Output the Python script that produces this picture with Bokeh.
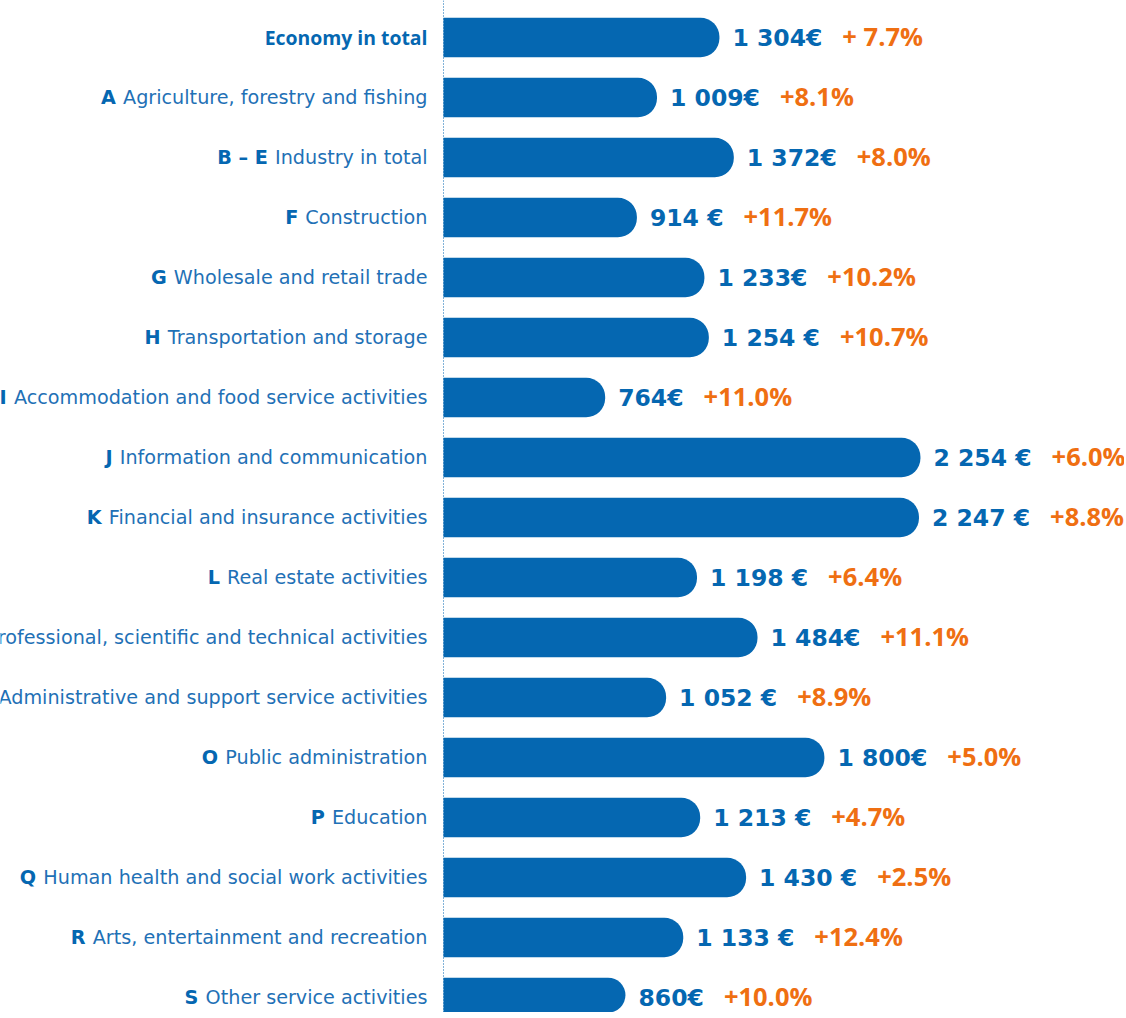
import subprocess
from bokeh.plotting import figure
from bokeh.models import ColumnDataSource, Range1d, Span
from bokeh.core.properties import value
from bokeh.embed import file_html
from bokeh.resources import INLINE

# ---------------- data ----------------
codes = ["", "A", "B \u2013 E", "F", "G", "H", "I", "J", "K", "L", "M", "N", "O", "P", "Q", "R", "S"]
names = ["Economy in total", "Agriculture, forestry and fishing", "Industry in total", "Construction",
         "Wholesale and retail trade", "Transportation and storage",
         "Accommodation and food service activities", "Information and communication",
         "Financial and insurance activities", "Real estate activities",
         "Professional, scientific and technical activities",
         "Administrative and support service activities", "Public administration", "Education",
         "Human health and social work activities", "Arts, entertainment and recreation",
         "Other service activities"]
wages = [1304, 1009, 1372, 914, 1233, 1254, 764, 2254, 2247, 1198, 1484, 1052, 1800, 1213, 1430, 1133, 860]
wage_labels = ["1 304\u20ac", "1 009\u20ac", "1 372\u20ac", "914 \u20ac", "1 233\u20ac", "1 254 \u20ac", "764\u20ac",
               "2 254 \u20ac", "2 247 \u20ac", "1 198 \u20ac", "1 484\u20ac", "1 052 \u20ac", "1 800\u20ac",
               "1 213 \u20ac", "1 430 \u20ac", "1 133 \u20ac", "860\u20ac"]
growth_labels = ["+ 7.7%", "+8.1%", "+8.0%", "+11.7%", "+10.2%", "+10.7%", "+11.0%", "+6.0%", "+8.8%",
                 "+6.4%", "+11.1%", "+8.9%", "+5.0%", "+4.7%", "+2.5%", "+12.4%", "+10.0%"]

# ---------------- styles ----------------
BLUE = "#0567b1"
LABEL_BLUE = "#1f71b6"
ORANGE = "#ef6f12"
LABEL_FONT = "DejaVu Sans"
TOTAL_FONT = "Open Sans"
VALUE_FONT = "DejaVu Sans"
PCT_FONT = "Open Sans"


def font_file(family, bold):
    try:
        pat = f"{family}:bold" if bold else f"{family}:regular"
        out = subprocess.run(["fc-match", "-f", "%{file}", pat],
                             capture_output=True, text=True).stdout.strip()
        if out:
            return out
    except Exception:
        pass
    return None

try:
    from PIL import ImageFont
    _fonts = {}
    def text_w(s, family, bold, size):
        key = (family, bold)
        if key not in _fonts:
            _fonts[key] = ImageFont.truetype(font_file(family, bold), 100)
        return _fonts[key].getlength(s) * size / 100.0
    for f, b in [(LABEL_FONT, False), (LABEL_FONT, True), (TOTAL_FONT, True), (PCT_FONT, True)]:
        text_w("x", f, b, 10)
except Exception:
    def text_w(s, family, bold, size):
        return len(s) * size * (0.66 if bold else 0.58)

# sizes fitted to the reference's text widths
LABEL_SIZE = round(10 * 305 / text_w("Agriculture, forestry and fishing", LABEL_FONT, False, 10), 1)
TOTAL_SIZE = round(10 * 151 / text_w("Economy in total", TOTAL_FONT, True, 10), 1)
VALUE_SIZE = round((10 * 95 / text_w("1 304\u20ac", VALUE_FONT, True, 10)
                    + 10 * 93 / text_w("2 254 \u20ac", VALUE_FONT, True, 10)) / 2, 1)
PCT_SIZE = round(10 * 86 / text_w("+10.7%", PCT_FONT, True, 10), 1)

# ---------------- figure geometry ----------------
W, H = 1124, 1012
px_per_unit = 0.2116      # px per euro
bar_x0_px = 443
row_px = 60
first_row_px = 37
x_start = -bar_x0_px / px_per_unit
x_end = (W - bar_x0_px) / px_per_unit
y_top = -first_row_px / row_px
y_bottom = (H - first_row_px) / row_px

n = len(wages)
ys = list(range(n))

p = figure(width=W, height=H, output_backend="svg", toolbar_location=None,
           x_range=Range1d(x_start, x_end), y_range=Range1d(y_bottom, y_top),
           min_border=0)
p.axis.visible = False
p.grid.visible = False
p.outline_line_color = None
p.background_fill_color = "white"
p.border_fill_color = "white"

src = ColumnDataSource(dict(y=ys, wage=wages, code=codes, name=names,
                            wage_label=wage_labels, growth=growth_labels))

# bars with rounded right end
p.hbar(y="y", left=0, right="wage", height=0.66, source=src, fill_color=BLUE, line_color=None,
       border_radius=(0, 19, 19, 0))

# dotted baseline
p.add_layout(Span(location=0, dimension="height", line_color=BLUE, line_width=1, line_dash="1 2"))

# category labels: regular name, bold code in front
LABEL_GAP = -16
space_w = text_w(" ", LABEL_FONT, False, LABEL_SIZE) * 1.15
reg_idx = [i for i, c in enumerate(codes) if c]
tot_idx = [i for i, c in enumerate(codes) if not c]

reg = ColumnDataSource(dict(
    y=[ys[i] for i in reg_idx],
    name=[names[i] for i in reg_idx],
    code=[codes[i] for i in reg_idx],
    code_off=[LABEL_GAP - text_w(names[i], LABEL_FONT, False, LABEL_SIZE) - space_w for i in reg_idx],
))
tot = ColumnDataSource(dict(y=[ys[i] for i in tot_idx], name=[names[i] for i in tot_idx]))

p.text(x=0, y="y", text="name", source=reg, x_offset=LABEL_GAP, text_align="right",
       text_baseline="middle", text_font=value(LABEL_FONT), text_font_size=f"{LABEL_SIZE}px",
       text_color=LABEL_BLUE)
p.text(x=0, y="y", text="code", source=reg, x_offset="code_off", text_align="right",
       text_baseline="middle", text_font=value(LABEL_FONT), text_font_size=f"{LABEL_SIZE}px",
       text_font_style="bold", text_color=BLUE)
p.text(x=0, y="y", text="name", source=tot, x_offset=LABEL_GAP, text_align="right",
       text_baseline="middle", text_font=value(TOTAL_FONT), text_font_size=f"{TOTAL_SIZE}px",
       text_font_style="bold", text_color=BLUE)

# value labels
val_gap = 13
pct_gap = 20
src.data["pct_off"] = [val_gap + text_w(s, VALUE_FONT, True, VALUE_SIZE) + pct_gap for s in wage_labels]
p.text(x="wage", y="y", text="wage_label", source=src, x_offset=val_gap, y_offset=0,
       text_align="left", text_baseline="middle", text_font=value(VALUE_FONT),
       text_font_size=f"{VALUE_SIZE}px", text_font_style="bold", text_color=BLUE)
p.text(x="wage", y="y", text="growth", source=src, x_offset="pct_off", y_offset=-2,
       text_align="left", text_baseline="middle", text_font=value(PCT_FONT),
       text_font_size=f"{PCT_SIZE}px", text_font_style="bold", text_color=ORANGE)

open("out.html", "w").write(file_html(p, INLINE))
